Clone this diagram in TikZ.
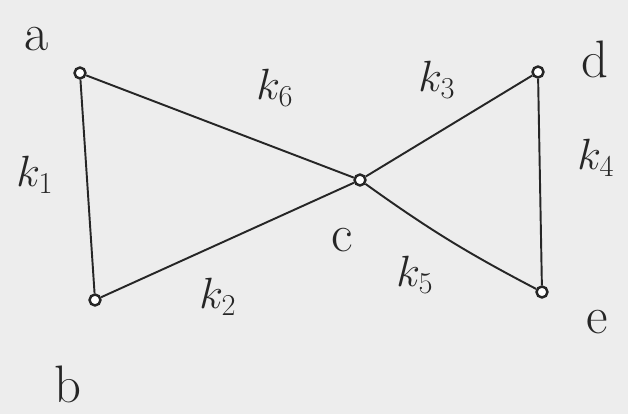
\documentclass[tikz,border=0pt]{standalone}
\usepackage{amsmath,amssymb}
\usetikzlibrary{positioning}
\definecolor{papier}{gray}{0.93}
\definecolor{crayon}{gray}{0.15}

\begin{document}
\begin{tikzpicture}[
    sommet/.style={circle, draw=crayon, line width=1.4pt, fill=white, inner sep=2.2pt},
    arete/.style={crayon, line width=1.1pt},
    nom/.style={font=\fontsize{30}{34}\selectfont, crayon},
    poids/.style={font=\fontsize{26}{30}\selectfont, crayon}]

  \fill[papier] (0,0) rectangle (12.56,8.28);
  \useasboundingbox (0,0) rectangle (12.56,8.28);

  % --- sommets ---
  \node[sommet] (a) at (1.6,6.82) {};
  \node[sommet] (b) at (1.9,2.28) {};
  \node[sommet] (c) at (7.2,4.68) {};
  \node[sommet] (d) at (10.76,6.84) {};
  \node[sommet] (e) at (10.84,2.44) {};

  \node[nom] (na) at (0.74,7.5) {a};
  \node[nom] (nb) at (1.36,0.6) {b};
  \node[nom] (nc) at (6.84,3.48) {c};
  \node[nom] (nd) at (11.9,7.1) {d};
  \node[nom] (ne) at (11.94,1.84) {e};

  % --- aretes ---
  \draw[arete] (a) -- (b);
  \draw[arete] (b) -- (c);
  \draw[arete] (a) -- (c);
  \draw[arete] (c) -- (d);
  \draw[arete] (d) -- (e);
  \draw[arete] (c) to[bend right=4] (e);

  \node[poids] (k1) at (0.7,4.78) {$k_1$};
  \node[poids] (k2) at (4.36,2.34) {$k_2$};
  \node[poids] (k3) at (8.74,6.68) {$k_3$};
  \node[poids] (k4) at (11.92,5.12) {$k_4$};
  \node[poids] (k5) at (8.3,2.78) {$k_5$};
  \node[poids] (k6) at (5.5,6.52) {$k_6$};
\end{tikzpicture}
\end{document}
